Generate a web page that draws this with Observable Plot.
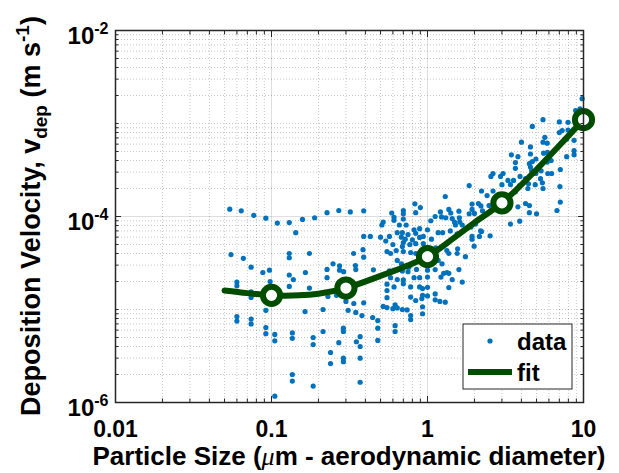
<!DOCTYPE html>
<html><head><meta charset="utf-8">
<script src="https://cdn.jsdelivr.net/npm/d3@7"></script>
<script src="https://cdn.jsdelivr.net/npm/@observablehq/plot@0.6"></script>
<style>html,body{margin:0;padding:0;background:#fff;}</style>
</head><body><div id="chart"></div>
<script>
// scatter data: [particle size (um), deposition velocity (m/s)]
const dataPoints = [
[0.054,1.2e-4],[0.064,1.15e-4],[0.077,1.03e-4],[0.092,9.6e-5],[0.109,8.5e-5],[0.13,8.6e-5],[0.143,6.7e-5],[0.158,9.3e-5],[0.189,9.7e-5],[0.227,1.1e-4],[0.27,1.16e-4],
[0.055,3.9e-5],[0.066,3.55e-5],[0.074,2.85e-5],[0.088,2.5e-5],[0.097,2.65e-5],[0.13,4.0e-5],[0.13,3.6e-5],[0.175,4.0e-5],[0.165,2.5e-5],[0.13,2.35e-5],[0.138,2.1e-5],
[0.098,2.0e-5],[0.06,1.97e-5],[0.06,1.8e-5],[0.074,1.55e-5],[0.074,1.35e-5],[0.13,1.77e-5],[0.175,1.7e-5],[0.248,3.1e-5],[0.227,2.7e-5],[0.227,2.2e-5],[0.273,2.95e-5],[0.273,2.65e-5],
[0.092,9.8e-6],[0.06,8.4e-6],[0.06,7.5e-6],[0.074,7.9e-6],[0.074,7.0e-6],[0.092,6.4e-6],[0.092,5.5e-6],[0.105,5.4e-6],[0.105,4.6e-6],[0.164,9.5e-6],[0.136,5.6e-6],[0.136,4.9e-6],
[0.136,2.0e-6],[0.136,1.7e-6],[0.105,1.17e-6],[0.214,1.0e-5],[0.185,5.0e-6],[0.185,4.2e-6],[0.214,5.8e-6],[0.239,3.45e-6],[0.239,2.62e-6],[0.185,1.5e-6],[0.27,4.4e-6],[0.23,1.38e-5],
[0.261,1.42e-5],[0.289,6.3e-6],[0.289,5.8e-6],[0.289,3.0e-6],[0.289,2.75e-6],[0.31,9.8e-6],[0.336,4.0e-5],[0.345,2.97e-5],[0.347,2.69e-5],[0.347,9.3e-6],[0.35,4.5e-6],[0.37,5.1e-6],
[0.37,4.0e-6],[0.37,3.0e-6],[0.37,1.65e-6],[0.38,8.6e-6],[0.39,6.1e-5],[0.43,6.1e-5],[0.45,2.67e-5],[0.445,8.2e-6],[0.48,7.6e-6],[0.48,6.3e-6],[0.48,4.65e-6],[0.30,1.22e-5],
[0.337,1.16e-5],[0.39,1.18e-5],[0.55,1.34e-5],[0.52,1.08e-5],[0.55,1.05e-5],[0.60,1.02e-5],[0.62,1.12e-5],[0.64,1.04e-5],[0.69,1.0e-5],[0.74,9.9e-6],[0.78,1.36e-5],[0.84,1.25e-5],
[0.93,1.42e-5],[1.0,1.4e-5],[1.12,1.27e-5],[1.2,1.22e-5],[1.3,1.2e-5],[0.93,1.07e-5],[0.93,9.0e-6],[0.78,8.6e-6],[0.78,7.8e-6],[0.62,6.7e-6],[0.62,5.8e-6],[1.17,3.37e-5],
[1.24,3.1e-5],[1.33,2.5e-5],[1.44,2.1e-5],[1.67,1.97e-5],[1.12,2.69e-5],[1.27,2.45e-5],[1.12,1.47e-5],[0.92,1.31e-5],[1.55,6.5e-5],[1.99,4.8e-5],[2.22,6.9e-5],[2.52,6.2e-5],
[1.30,1.64e-4],[0.83,1.37e-4],[0.90,1.25e-4],[0.39,1.15e-4],[0.32,1.12e-4],[0.59,1.09e-4],[0.70,1.16e-4],[0.84,1.10e-4],[0.70,1.07e-4],[0.61,9.8e-5],[1.37,1.19e-4],[1.41,1.09e-4],
[1.59,1.14e-4],[1.12,1.0e-4],[1.23,9.9e-5],[1.31,9.7e-5],[1.60,9.7e-5],[0.61,9.1e-5],[0.70,9.4e-5],[0.52,8.7e-5],[0.51,8.1e-5],[0.66,8.1e-5],[0.73,8.1e-5],[1.05,9.0e-5],
[1.49,8.7e-5],[1.51,8.1e-5],[1.61,8.7e-5],[1.67,8.1e-5],[0.82,7.2e-5],[0.89,7.4e-5],[1.0,7.2e-5],[1.17,6.7e-5],[1.25,6.7e-5],[1.40,7.0e-5],[0.64,6.7e-5],[0.69,6.7e-5],
[0.75,6.4e-5],[0.84,6.6e-5],[0.50,6.0e-5],[0.57,6.1e-5],[0.68,6.0e-5],[0.72,5.7e-5],[0.80,5.6e-5],[0.89,5.95e-5],[0.94,6.1e-5],[1.06,5.7e-5],[0.54,5.45e-5],[0.70,5.25e-5],
[0.77,5.0e-5],[0.84,5.1e-5],[0.94,5.1e-5],[0.60,5.0e-5],[0.69,4.75e-5],[1.0,4.65e-5],[1.13,4.6e-5],[0.386,4.4e-5],[0.55,4.2e-5],[0.58,4.0e-5],[0.63,4.3e-5],[0.70,4.2e-5],
[0.78,4.1e-5],[0.84,4.0e-5],[1.33,4.3e-5],[1.37,4.0e-5],[1.56,4.5e-5],[1.55,4.0e-5],[0.39,3.65e-5],[0.64,3.37e-5],[0.68,3.1e-5],[0.76,2.85e-5],[0.69,2.6e-5],[0.75,2.55e-5],
[0.85,2.7e-5],[1.0,2.65e-5],[1.37,2.45e-5],[1.59,2.69e-5],[0.57,2.6e-5],[0.58,2.2e-5],[0.64,2.1e-5],[0.70,2.08e-5],[0.82,2.2e-5],[0.89,2.2e-5],[1.0,2.23e-5],[1.22,2.23e-5],
[0.55,1.87e-5],[0.61,1.75e-5],[0.70,1.89e-5],[0.78,1.75e-5],[0.89,1.75e-5],[0.93,1.68e-5],[1.0,1.73e-5],[1.37,1.72e-5],[0.55,1.6e-5],[0.29,2.55e-5],
[9.8,1.85e-3],[8.9,1.38e-3],[9.5,1.44e-3],[5.5,1.1e-3],[7.0,1.04e-3],[7.96,1.03e-3],[4.7,9.3e-4],[7.0,8.0e-4],[7.3,8.4e-4],[7.96,8.5e-4],[8.7,6.6e-4],[5.65,7.1e-4],
[5.5,6.3e-4],[5.85,6.15e-4],[4.0,6.3e-4],[4.57,5.6e-4],[8.7,5.1e-4],[8.7,4.6e-4],[7.8,4.4e-4],[5.87,4.9e-4],[5.55,4.8e-4],[4.57,4.7e-4],[3.45,4.6e-4],[3.8,4.4e-4],
[6.2,4.0e-4],[4.95,4.15e-4],[4.7,3.9e-4],[4.5,3.7e-4],[3.66,3.8e-4],[3.66,3.3e-4],[3.05,2.9e-4],[2.63,2.9e-4],[2.55,2.7e-4],[2.94,2.7e-4],[4.65,3.1e-4],[4.95,2.9e-4],
[5.35,3.1e-4],[5.9,2.9e-4],[6.25,2.9e-4],[7.1,3.2e-4],[5.3,2.55e-4],[5.5,2.0e-4],[4.4,2.0e-4],[3.9,2.15e-4],[3.4,2.2e-4],[3.0,2.2e-4],[3.56,2.44e-4],[2.22,1.88e-4],
[1.85,2.15e-4],[2.63,1.88e-4],[7.06,2.1e-4],[7.1,1.43e-4],[6.76,1.16e-4],[3.8,1.27e-4],[4.5,1.1e-4],[5.0,1.07e-4],[3.9,8.9e-5],[2.2,1.3e-4],[1.93,1.19e-4],[1.85,1.07e-4],
[1.21,1.12e-4],[2.08,9.0e-5],[1.9,7.7e-5],[1.44,9.5e-5],[7.8,6.8e-4],[4.57,3.4e-4],[5.85,3.85e-4],[5.45,2.3e-4],[4.25,2.55e-4],[3.92,2.7e-4],[3.28,2.44e-4],[4.44,2.25e-4],
[4.9,2.2e-4],[1.93,1.36e-4],[2.12,1.38e-4],[2.0,1.08e-4],[2.25,1.15e-4],[2.22,9.7e-5],[2.55,1.15e-4],[2.41,1.68e-4],[2.48,1.31e-4],[3.66,1.84e-4],[4.25,1.38e-4],[4.5,1.31e-4],
[3.4,8.3e-5],[2.03,8.3e-5],[2.19,7.0e-5],[1.93,6.1e-5],[2.15,6.1e-5],[1.93,5.7e-5],[1.75,3.7e-5]
];
// fit curve
const fitSize = [0.05,0.07,0.1,0.15,0.2,0.3,0.5,0.7,1,1.5,2,3,5,7,10];
const fitVdep = [1.6e-5,1.5e-5,1.42e-5,1.42e-5,1.48e-5,1.7e-5,2.3e-5,2.85e-5,3.7e-5,6.0e-5,8.6e-5,1.4e-4,3.2e-4,5.8e-4,1.1e-3];
// fit markers
const markerSize = [0.1,0.3,1,3,10];
const markerVdep = [1.42e-5,1.7e-5,3.7e-5,1.4e-4,1.1e-3];
// ticks
const xTickValues = [0.01,0.1,1,10];
const xTickLabels = ["0.01","0.1","1","10"];
const xMinor = [0.02,0.03,0.04,0.05,0.06,0.07,0.08,0.09,0.2,0.3,0.4,0.5,0.6,0.7,0.8,0.9,2,3,4,5,6,7,8,9];
const yTickValues = [1e-6,1e-4,1e-2];
const yTickExp = ["-6","-4","-2"];
const yMinor = [2e-6,3e-6,4e-6,5e-6,6e-6,7e-6,8e-6,9e-6,1e-5,2e-5,3e-5,4e-5,5e-5,6e-5,7e-5,8e-5,9e-5,
  2e-4,3e-4,4e-4,5e-4,6e-4,7e-4,8e-4,9e-4,1e-3,2e-3,3e-3,4e-3,5e-3,6e-3,7e-3,8e-3,9e-3];

const fit = fitSize.map((s,i)=>({s, v: fitVdep[i]}));
const markers = markerSize.map((s,i)=>({s, v: markerVdep[i]}));
const blue = "#0072BD", green = "#004d00", axc = "#262626";
const font = "'Liberation Sans', Arial, Helvetica, sans-serif";

const svg = Plot.plot({
  width: 619, height: 473,
  marginLeft: 115, marginRight: 36, marginTop: 30, marginBottom: 71,
  style: {background: "#fff", fontFamily: font, color: "#000"},
  x: {type: "log", domain: [0.01, 10], label: null},
  y: {type: "log", domain: [1e-6, 1e-2], label: null},
  marks: [
    Plot.gridX(xMinor, {stroke: "#000", strokeOpacity: 0.22, strokeDasharray: "1,2"}),
    Plot.gridY(yMinor, {stroke: "#000", strokeOpacity: 0.22, strokeDasharray: "1,2"}),
    Plot.gridX(xTickValues, {stroke: "#000", strokeOpacity: 0.13}),
    Plot.gridY(yTickValues, {stroke: "#000", strokeOpacity: 0.13}),
    Plot.dot(dataPoints, {x: d=>d[0], y: d=>d[1], r: 2.6, fill: blue, stroke: null}),
    Plot.line(fit, {x: "s", y: "v", stroke: green, strokeWidth: 6, curve: "catmull-rom"}),
    Plot.dot(markers, {x: "s", y: "v", r: 8.6, fill: "#fff", stroke: green, strokeWidth: 6}),
    Plot.frame({stroke: axc, strokeWidth: 1.5}),
    // inward ticks on all four sides
    Plot.axisX(xTickValues, {anchor: "bottom", tickSize: -6, tickFormat: () => "", stroke: axc, label: null}),
    Plot.axisX(xMinor, {anchor: "bottom", tickSize: -3.5, tickFormat: () => "", stroke: axc, label: null}),
    Plot.axisX(xTickValues, {anchor: "top", tickSize: -6, tickFormat: () => "", stroke: axc, label: null}),
    Plot.axisX(xMinor, {anchor: "top", tickSize: -3.5, tickFormat: () => "", stroke: axc, label: null}),
    Plot.axisY(yTickValues, {anchor: "left", tickSize: -6, tickFormat: () => "", stroke: axc, label: null}),
    Plot.axisY(yMinor, {anchor: "left", tickSize: -3.5, tickFormat: () => "", stroke: axc, label: null}),
    Plot.axisY(yTickValues, {anchor: "right", tickSize: -6, tickFormat: () => "", stroke: axc, label: null}),
    Plot.axisY(yMinor, {anchor: "right", tickSize: -3.5, tickFormat: () => "", stroke: axc, label: null}),
    // labels
    Plot.axisX(xTickValues, {anchor: "bottom", tickSize: 0, tickPadding: 18, fontSize: 23, fontWeight: "bold", fill: "#000",
      tickFormat: d => xTickLabels[xTickValues.indexOf(d)], label: null}),
    Plot.axisY(yTickValues, {anchor: "left", tickSize: 0, tickPadding: 7, fontSize: 24, fontWeight: "bold", fill: "#000", dy: 6,
      tickFormat: d => "10^" + yTickExp[yTickValues.indexOf(d)], label: null})
  ]
});

// superscripts for the y tick labels
d3.select(svg).selectAll("text").each(function() {
  const t = this.textContent;
  if (t.startsWith("10^")) {
    const exp = t.slice(3);
    const sel = d3.select(this);
    sel.text(null);
    sel.append("tspan").text("10");
    sel.append("tspan").attr("dy", "-10").attr("font-size", "16").text(exp);
  }
});

const root = d3.select(svg);
// x label
const xl = root.append("text").attr("x", 349).attr("y", 465).attr("text-anchor", "middle")
  .attr("font-family", font).attr("font-weight", "bold").attr("font-size", 26).attr("fill", "#000");
xl.append("tspan").text("Particle Size (");
xl.append("tspan").attr("font-family", "'Liberation Serif', 'DejaVu Serif', serif").attr("font-style", "italic").attr("font-weight", "normal").text("\u03bc");
xl.append("tspan").text("m - aerodynamic diameter)");
// y label
const yl = root.append("text").attr("transform", "translate(40,216) rotate(-90)").attr("text-anchor", "middle")
  .attr("font-family", font).attr("font-weight", "bold").attr("font-size", 27).attr("fill", "#000");
yl.append("tspan").text("Deposition Velocity, v");
yl.append("tspan").attr("font-size", 19).attr("dy", 7).text("dep");
yl.append("tspan").attr("dy", -7).text(" (m s");
yl.append("tspan").attr("font-size", 19).attr("dy", -11).text("-1");
yl.append("tspan").attr("dy", 11).text(")");

// legend
const lg = root.append("g").attr("text-anchor", "start");
lg.append("rect").attr("x", 463).attr("y", 324).attr("width", 109).attr("height", 65)
  .attr("fill", "#fff").attr("stroke", axc).attr("stroke-width", 1);
lg.append("circle").attr("cx", 490).attr("cy", 341).attr("r", 2.6).attr("fill", blue);
lg.append("line").attr("x1", 468).attr("x2", 512).attr("y1", 372).attr("y2", 372)
  .attr("stroke", green).attr("stroke-width", 6);
lg.append("text").attr("x", 517).attr("y", 350).attr("text-anchor", "start").attr("font-family", font).attr("font-weight", "bold")
  .attr("font-size", 24).attr("fill", "#000").text("data");
lg.append("text").attr("x", 517).attr("y", 381).attr("text-anchor", "start").attr("font-family", font).attr("font-weight", "bold")
  .attr("font-size", 24).attr("fill", "#000").text("fit");

document.getElementById("chart").appendChild(svg);
</script>
</body></html>
